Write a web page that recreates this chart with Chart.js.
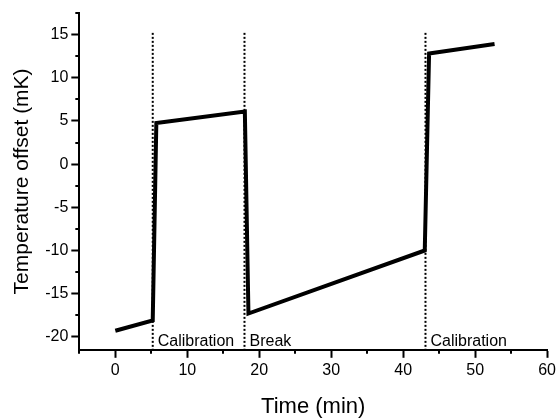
<!DOCTYPE html>
<html>
<head>
<meta charset="utf-8">
<script src="https://cdn.jsdelivr.net/npm/chart.js@4.4.0/dist/chart.umd.min.js"></script>
<style>
  html, body { margin: 0; padding: 0; background: #fff; }
  #wrap { width: 559px; height: 418px; }
</style>
</head>
<body>
<div id="wrap"><canvas id="tempChart"></canvas></div>
<script>
// measured curve
const timeMin = [0, 5.2, 5.7, 18.0, 18.5, 43.0, 43.6, 52.7];
const tempMk = [-19.3, -18.1, 4.75, 6.1, -17.3, -10.0, 12.8, 13.9];

// phase markers (dotted lines) and their labels
const markerTimes = [5.2, 17.95, 43.1];
const markerLabels = ['Calibration', 'Break', 'Calibration'];

// axis ticks
const xTicks = [0, 10, 20, 30, 40, 50, 60];
const yTicks = [-20, -15, -10, -5, 0, 5, 10, 15];

const FONT = "'Liberation Sans', Arial, sans-serif";

const curve = timeMin.map((t, i) => ({ x: t, y: tempMk[i] }));

const markerSets = markerTimes.map(t => ({
    data: [{ x: t, y: 15.2 }, { x: t, y: -21.5 }],
    borderColor: '#000',
    borderWidth: 2,
    borderDash: [2, 2],
    pointRadius: 0,
    fill: false
}));

// minor ticks + phase labels
const extras = {
    id: 'extras',
    afterDraw(chart) {
        const ctx = chart.ctx;
        const xs = chart.scales.x, ys = chart.scales.y;
        ctx.save();
        ctx.strokeStyle = '#000';
        ctx.lineWidth = 2;
        for (let v = -5; v <= 55; v += 10) {
            const px = Math.round(xs.getPixelForValue(v));
            ctx.beginPath();
            ctx.moveTo(px, ys.bottom);
            ctx.lineTo(px, ys.bottom + 4);
            ctx.stroke();
        }
        for (let v = -17.5; v <= 17.5; v += 5) {
            const py = Math.round(ys.getPixelForValue(v));
            ctx.beginPath();
            ctx.moveTo(xs.left, py);
            ctx.lineTo(xs.left - 4, py);
            ctx.stroke();
        }
        ctx.fillStyle = '#000';
        ctx.font = '16px ' + FONT;
        ctx.textAlign = 'left';
        ctx.textBaseline = 'middle';
        markerTimes.forEach((t, i) => {
            ctx.fillText(markerLabels[i], xs.getPixelForValue(t) + 5, ys.getPixelForValue(-20.6));
        });
        ctx.restore();
    }
};

new Chart(document.getElementById('tempChart'), {
    type: 'line',
    data: {
        datasets: [{
            data: curve,
            borderColor: '#000',
            borderWidth: 4,
            borderJoinStyle: 'miter',
            pointRadius: 0,
            fill: false
        }, ...markerSets]
    },
    options: {
        responsive: true,
        maintainAspectRatio: false,
        animation: false,
        plugins: { legend: { display: false }, tooltip: { enabled: false } },
        layout: { padding: { top: 13, right: 2, left: 2, bottom: 0 } },
        scales: {
            x: {
                type: 'linear',
                min: -5,
                max: 60,
                afterBuildTicks: s => { s.ticks = xTicks.map(v => ({ value: v })); },
                border: { display: true, color: '#000', width: 2 },
                grid: { display: true, drawOnChartArea: false, drawTicks: true, tickLength: 8, tickColor: '#000', tickWidth: 2 },
                ticks: { color: '#000', font: { family: FONT, size: 16 }, padding: 3, maxRotation: 0 },
                title: { display: true, text: 'Time (min)', color: '#000', font: { family: FONT, size: 22, lineHeight: 1 }, padding: { top: 13, bottom: 0 } }
            },
            y: {
                type: 'linear',
                min: -21.5,
                max: 17.5,
                afterBuildTicks: s => { s.ticks = yTicks.map(v => ({ value: v })); },
                border: { display: true, color: '#000', width: 2 },
                grid: { display: true, drawOnChartArea: false, drawTicks: true, tickLength: 8, tickColor: '#000', tickWidth: 2 },
                ticks: { color: '#000', font: { family: FONT, size: 16 }, padding: 3 },
                title: { display: true, text: 'Temperature offset (mK)', color: '#000', font: { family: FONT, size: 21 }, padding: { top: 8, bottom: 7 } }
            }
        }
    },
    plugins: [extras]
});
</script>
</body>
</html>
